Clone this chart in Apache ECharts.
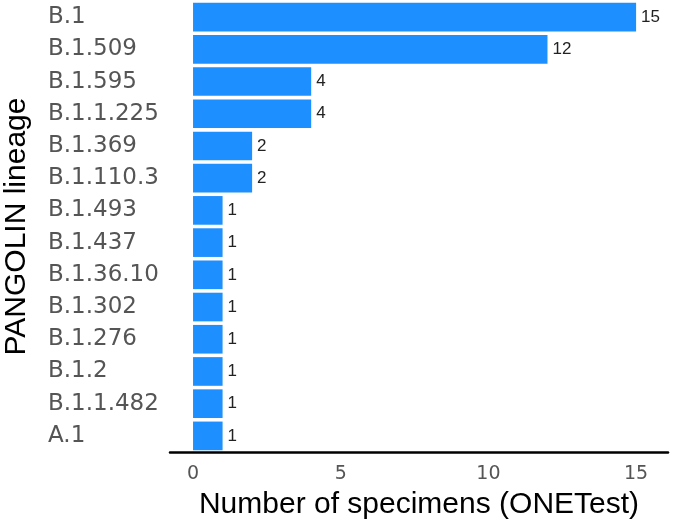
<!DOCTYPE html>
<html>
<head>
<meta charset="utf-8">
<script src="https://cdn.jsdelivr.net/npm/echarts@6/dist/echarts.min.js"></script>
<style>html,body{margin:0;padding:0;background:#fff}#c{width:677px;height:524px}</style>
</head>
<body>
<div id="c"></div>
<script>
const categories = ["B.1","B.1.509","B.1.595","B.1.1.225","B.1.369","B.1.110.3","B.1.493","B.1.437","B.1.36.10","B.1.302","B.1.276","B.1.2","B.1.1.482","A.1"];
const counts = [15,12,4,4,2,2,1,1,1,1,1,1,1,1];
const xTicks = [0,5,10,15];

const chart = echarts.init(document.getElementById('c'), null, {renderer:'canvas'});
chart.setOption({
  animation:false,
  backgroundColor:'#ffffff',
  grid:{left:170, right:9, top:1, bottom:72, containLabel:false, outerBoundsMode:'none'},
  xAxis:{
    type:'value', min:-0.78, max:16.08,
    axisLine:{show:true, lineStyle:{color:'#000', width:2.5}},
    axisTick:{show:false},
    splitLine:{show:false},
    axisLabel:{customValues:xTicks, color:'#555', fontSize:19, fontFamily:'DejaVu Sans', margin:13},
    name:'Number of specimens (ONETest)', nameLocation:'middle', nameGap:38,
    nameTextStyle:{color:'#000', fontSize:30, fontFamily:'Liberation Sans'}
  },
  yAxis:{
    type:'category', data:categories, inverse:true,
    axisLine:{show:false}, axisTick:{show:false},
    axisLabel:{color:'#555', fontSize:23, fontFamily:'DejaVu Sans', align:'left', margin:122},
    name:'PANGOLIN lineage', nameLocation:'middle', nameGap:138, nameRotate:90,
    nameTextStyle:{color:'#000', fontSize:30, fontFamily:'Liberation Sans'}
  },
  series:[{
    type:'bar', data:counts, barCategoryGap:'11%',
    itemStyle:{color:'#1E8FFF'},
    label:{show:true, position:'right', distance:5, color:'#222', fontSize:17, fontFamily:'Liberation Sans'}
  }]
});
</script>
</body>
</html>
